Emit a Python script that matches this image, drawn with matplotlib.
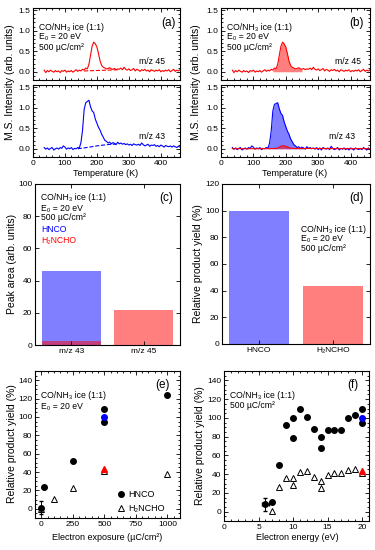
import numpy as np
import matplotlib; matplotlib.use("Agg")
import matplotlib.pyplot as plt
from matplotlib.ticker import AutoMinorLocator, MultipleLocator

plt.rcParams["font.family"] = ["Liberation Sans", "DejaVu Sans"]
plt.rcParams["mathtext.fontset"] = "custom"
plt.rcParams["mathtext.rm"] = "Liberation Sans"
plt.rcParams["mathtext.default"] = "regular"
plt.rcParams["axes.linewidth"] = 0.8

# ---- TPD traces, T grid 35..460 K every 5 K ----
temp = np.arange(35, 461, 5)
mz45 = [.04,-.02,.03,.00,.04,.01,-.01,.03,.00,.02,
        -.02,.03,.01,.04,-.01,.02,.00,.03,-.01,.02,
        .05,.01,.04,.02,.06,.04,.09,.07,.18,.40,
        .62,.72,.68,.60,.44,.26,.15,.11,.09,.07,
        .08,.10,.07,.06,.08,.05,.07,.06,.09,.05,
        .11,.06,.04,.07,.03,.05,.08,.02,.06,.04,
        .01,.05,.03,.06,.02,.04,.00,.05,.03,.01,
        .04,.02,.05,.00,.03,.01,.04,.02,.05,.00,
        .03,.06,.01,.04,.02,.05]
mz43 = [.03,-.01,.02,-.02,.01,.03,-.03,.00,.02,-.01,
        .03,.01,.07,.04,-.01,.02,.00,.03,-.02,.01,
        .00,.03,.02,.15,.45,.95,1.12,1.15,1.18,1.02,
        .92,.88,.72,.62,.52,.45,.35,.28,.20,.18,
        .14,.16,.12,.15,.13,.10,.16,.12,.14,.11,
        .13,.10,.12,.09,.11,.08,.12,.10,.09,.11,
        .08,.14,.10,.07,.09,.11,.06,.09,.08,.10,
        .06,.08,.05,.09,.07,.04,.08,.06,.05,.07,
        .04,.07,.05,.03,.06,.04]
mz43_sub = [.03,-.01,.02,-.02,.01,.03,-.03,.00,.02,-.01,
            .03,.01,.07,.04,-.01,.02,.00,.03,-.02,.01,
            .00,.03,.02,.14,.43,.92,1.08,1.10,1.12,.97,
            .86,.81,.65,.54,.43,.35,.24,.17,.10,.07,
            .03,.05,.01,.04,.02,-.01,.05,.01,.03,.00,
            .02,-.01,.03,-.02,.02,-.03,.03,.01,-.01,.02,
            -.02,.06,.01,-.02,.00,.03,-.03,.01,-.01,.02,
            -.02,.01,-.03,.02,.00,-.03,.02,.00,-.02,.01,
            -.02,.03,.00,-.03,.02,-.01]
frag45 = 0.1  # H2NCHO fragment share in m/z 43
base45_t = [160, 270]; base45_y = [0.02, 0.05]
base43_t = [140, 160, 180, 200, 220, 240, 260]
base43_y = [0.0, 0.02, 0.045, 0.07, 0.09, 0.105, 0.115]

# ---- bars ----
c_cats = ["m/z 43", "m/z 45"]
c_hnco = [46, 0]
c_h2 = [2.5, 21.5]
d_cats = ["HNCO", "H₂NCHO"]
d_vals = [100, 43.5]

# ---- exposure dependence ----
e_x_hnco = [0, 25, 250, 500, 500, 1000]
e_y_hnco = [1, 24, 52, 109, 95, 124]
e_x_h2 = [0, 100, 250, 500, 1000]
e_y_h2 = [0, 11, 23, 41, 38]
# ---- energy dependence ----
f_x_hnco = [6, 7, 8, 9, 10, 10, 11, 12, 13, 14, 14, 15, 16, 17, 18, 19, 20, 20]
f_y_hnco = [8, 10, 50, 92, 100, 79, 110, 101, 88, 80, 68, 87, 87, 87, 100, 103, 109, 95]
f_x_h2 = [7, 8, 9, 10, 10, 11, 12, 13, 14, 14, 15, 16, 17, 18, 19, 20]
f_y_h2 = [1, 26, 36, 36, 28, 42, 43.5, 37, 33, 25, 39, 41.5, 41, 44, 46, 41]

L_ICE = "CO/NH₃ ice (1:1)"
L_E0 = "E₀ = 20 eV"
L_DOSE = "500 µC/cm²"

W, H = 375, 550
fig = plt.figure(figsize=(W/100, H/100), dpi=100)
def pos(x0, y0, x1, y1): return [x0/W, 1-y1/H, (x1-x0)/W, (y1-y0)/H]
def ftxt(x, y, s, **kw):
    kw.setdefault("fontsize", 6.2)
    kw.setdefault("va", "center")
    fig.text(x/W, 1-y/H, s, **kw)
def block(x, ys, lines):
    for y, s in zip(ys, lines):
        ftxt(x, y, s)

def style(ax, minor=True):
    ax.tick_params(which="both", direction="in", top=True, right=True, labelsize=6, width=0.6, pad=2)
    ax.tick_params(which="major", length=3)
    ax.tick_params(which="minor", length=1.5)
    if minor:
        ax.xaxis.set_minor_locator(AutoMinorLocator())
        ax.yaxis.set_minor_locator(AutoMinorLocator())

BL, RD = "#0000ff", "#ff0000"
YL = dict(fontsize=7.5, rotation=90, ha="center")

# ---- (a) ----
a1 = fig.add_axes(pos(33, 8, 180, 80)); a2 = fig.add_axes(pos(33, 85, 180, 157))
a1.plot(temp, mz45, color=RD, lw=0.8)
a1.plot(base45_t, base45_y, "--", color=RD, lw=0.8)
a2.plot(temp, mz43, color=BL, lw=0.8)
a2.plot(base43_t, base43_y, "--", color=BL, lw=0.8)
# ---- (b) ----
b1 = fig.add_axes(pos(221, 8, 370, 80)); b2 = fig.add_axes(pos(221, 85, 370, 157))
t = np.array(temp); y45 = np.array(mz45); y43 = np.array(mz43_sub)
b1.plot(t, y45, color=RD, lw=0.8)
b1.fill_between(t, 0, y45, where=(t >= 160) & (t <= 250), color=RD, alpha=0.5, lw=0)
b2.fill_between(t, 0, y43, where=(t >= 145) & (t <= 255), color=BL, alpha=0.5, lw=0)
b2.plot(t, y43, color=BL, lw=0.8)
b2.fill_between(t, 0, frag45*y45, where=(t >= 160) & (t <= 255), color=RD, alpha=0.5, lw=0)
b2.plot(t, frag45*y45, color=RD, lw=0.8)
for ax in (a1, a2, b1, b2):
    ax.set_xlim(0, 460); ax.set_ylim(-0.2, 1.55)
    ax.xaxis.set_major_locator(MultipleLocator(100))
    ax.yaxis.set_major_locator(MultipleLocator(0.5))
    ax.yaxis.set_major_formatter(plt.FormatStrFormatter("%.1f"))
    style(ax)
for ax in (a1, b1):
    ax.tick_params(labelbottom=False)
for x0, lab in ((33, "(a)"), (221, "(b)")):
    block(x0 + 6, (27, 37, 47), (L_ICE, L_E0, L_DOSE))
    ftxt(x0 + 136, 23, lab, fontsize=8.5, ha="center")
ftxt(152, 61, "m/z 45", ha="center")
ftxt(152, 137, "m/z 43", ha="center")
ftxt(348, 61, "m/z 45", ha="center")
ftxt(342, 137, "m/z 43", ha="center")
for x in (106, 295):
    ftxt(x, 174, "Temperature (K)", fontsize=6.5, ha="center")
ftxt(10, 82, "M.S. Intensity (arb. units)", **YL)
ftxt(196, 82, "M.S. Intensity (arb. units)", **YL)

# ---- (c) ----
c = fig.add_axes(pos(35, 184, 180, 345))
c.bar(c_cats, c_hnco, width=0.82, color=BL, alpha=0.5, lw=0)
c.bar(c_cats, c_h2, width=0.82, color=RD, alpha=0.5, lw=0)
c.set_xlim(-0.5, 1.5); c.set_ylim(0, 100)
c.yaxis.set_major_locator(MultipleLocator(20))
style(c, minor=False)
block(41, (198, 208, 218), (L_ICE, L_E0, L_DOSE))
ftxt(41, 230, "HNCO", color=BL)
ftxt(41, 241, "H₂NCHO", color=RD)
ftxt(166, 198, "(c)", fontsize=8.5, ha="center")
ftxt(12, 264, "Peak area (arb. units)", **YL)

# ---- (d) ----
d = fig.add_axes(pos(222, 184, 370, 344))
d.bar(d_cats, d_vals, width=0.82, color=[BL, RD], alpha=0.5, lw=0)
d.set_xlim(-0.5, 1.5); d.set_ylim(0, 120)
d.yaxis.set_major_locator(MultipleLocator(20))
style(d, minor=False)
block(301, (229, 239, 249), (L_ICE, L_E0, L_DOSE))
ftxt(357, 198, "(d)", fontsize=8.5, ha="center")
ftxt(198, 264, "Relative product yield (%)", **YL)

# ---- (e) ----
e = fig.add_axes(pos(35, 371, 180, 518))
e.errorbar([0], [e_y_hnco[0]], yerr=7, fmt="none", ecolor="k", lw=0.7, capsize=1.5)
e.plot(e_x_hnco, e_y_hnco, "o", color="k", ms=4, label="HNCO")
e.plot(e_x_h2, e_y_h2, "^", mfc="none", mec="k", mew=0.7, ms=4.5, label="H₂NCHO")
e.plot([500], [100], "o", color=BL, ms=4)
e.plot([500], [43], "^", color=RD, ms=4.5)
e.set_xlim(-50, 1100); e.set_ylim(-10, 150)
e.xaxis.set_major_locator(MultipleLocator(250))
e.yaxis.set_major_locator(MultipleLocator(20))
style(e)
e.legend(loc="lower left", bbox_to_anchor=(0.5, -0.02), frameon=False, fontsize=6.5,
         handletextpad=0.2, labelspacing=0.5, handlelength=1.2)
block(41, (396, 406), (L_ICE, L_E0))
ftxt(163, 385, "(e)", fontsize=8.5, ha="center")
ftxt(107, 537, "Electron exposure (µC/cm²)", fontsize=6.5, ha="center")
ftxt(12, 444, "Relative product yield (%)", **YL)

# ---- (f) ----
f = fig.add_axes(pos(224, 371, 369, 521))
f.errorbar([f_x_hnco[0]], [f_y_hnco[0]], xerr=0.5, yerr=7, fmt="none", ecolor="k", lw=0.7, capsize=1.5)
f.plot(f_x_hnco, f_y_hnco, "o", color="k", ms=4)
f.plot(f_x_h2, f_y_h2, "^", mfc="none", mec="k", mew=0.7, ms=4.5)
f.plot([20], [100], "o", color=BL, ms=4)
f.plot([20], [43], "^", color=RD, ms=4.5)
f.set_xlim(0, 21); f.set_ylim(-10, 150)
f.xaxis.set_major_locator(MultipleLocator(5))
f.yaxis.set_major_locator(MultipleLocator(20))
style(f)
block(230, (396, 406), (L_ICE, L_DOSE))
ftxt(353, 385, "(f)", fontsize=8.5, ha="center")
ftxt(297, 538, "Electron energy (eV)", fontsize=6.5, ha="center")
ftxt(200, 446, "Relative product yield (%)", **YL)

fig.savefig("out.png", dpi=100)
